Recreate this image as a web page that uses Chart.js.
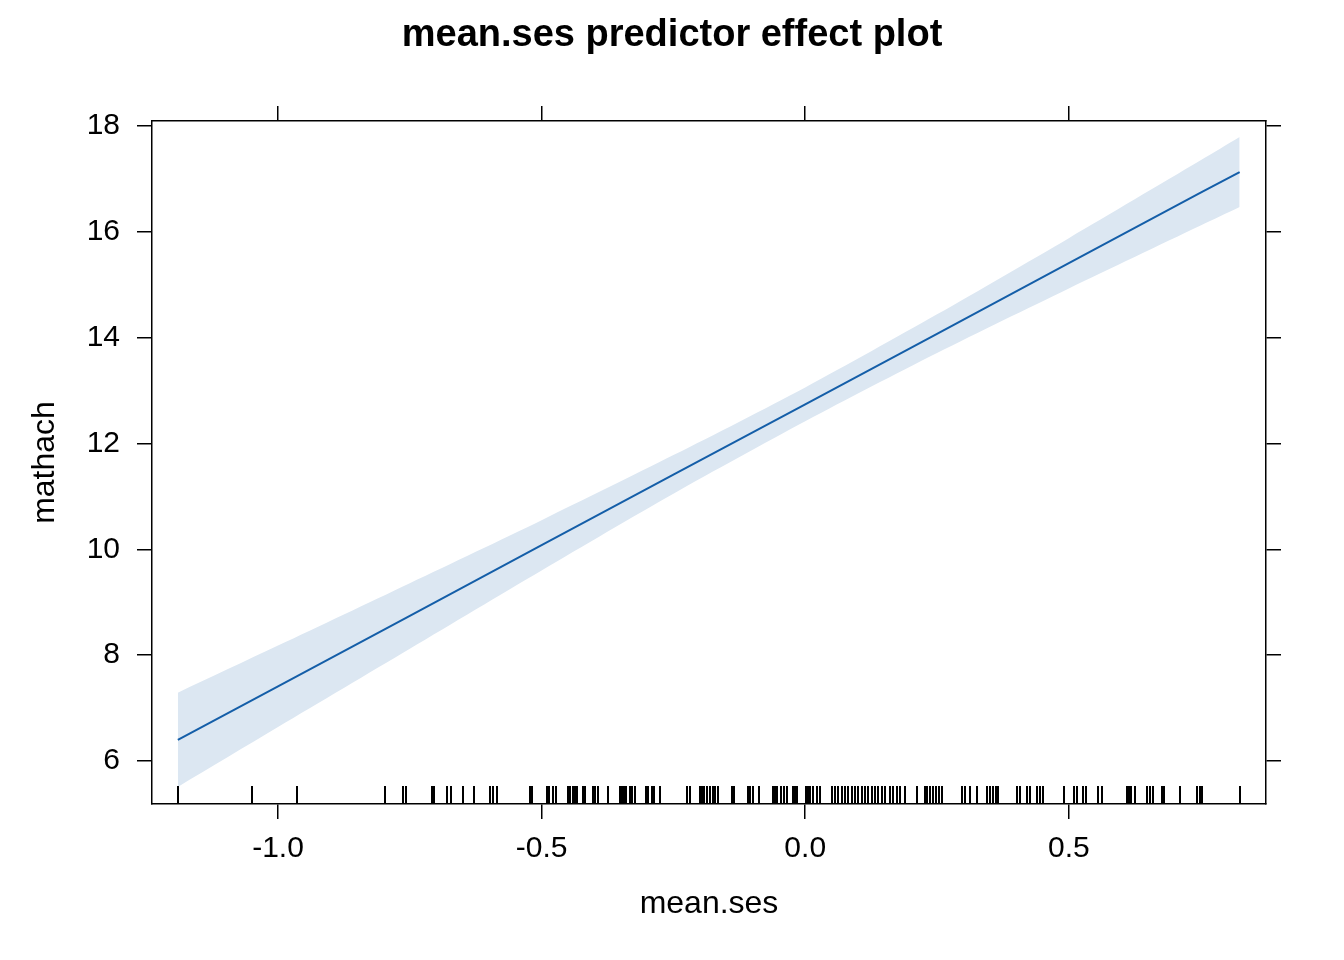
<!DOCTYPE html>
<html>
<head>
<meta charset="utf-8">
<script src="https://cdn.jsdelivr.net/npm/chart.js@4/dist/chart.umd.min.js"></script>
<style>
  html, body { margin: 0; padding: 0; background: #ffffff; }
  #wrap { width: 1344px; height: 960px; }
</style>
</head>
<body>
<div id="wrap"><canvas id="c" width="1344" height="960"></canvas></div>
<script>
// ---- data ----
const titleText = "mean.ses predictor effect plot";
const xTitle = "mean.ses";
const yTitle = "mathach";

const xTicks = [-1.0, -0.5, 0.0, 0.5];
const yTicks = [6, 8, 10, 12, 14, 16, 18];

const xGrid = [-1.19, -1.0, -0.75, -0.5, -0.25, 0.0, 0.25, 0.5, 0.75, 0.824];
const fitValues = [6.40, 7.41, 8.74, 10.08, 11.41, 12.74, 14.07, 15.41, 16.74, 17.13];
const lowerValues = [5.51, 6.64, 8.12, 9.60, 11.05, 12.42, 13.71, 14.93, 16.12, 16.47];
const upperValues = [7.29, 8.18, 9.36, 10.55, 11.78, 13.06, 14.44, 15.88, 17.35, 17.79];

const rugValues = [
  -1.190, -1.049, -0.964, -0.797, -0.763, -0.757, -0.708, -0.704, -0.679, -0.672,
  -0.649, -0.628, -0.598, -0.592, -0.585, -0.522, -0.518, -0.490, -0.486, -0.478,
  -0.473, -0.450, -0.446, -0.441, -0.437, -0.433, -0.422, -0.418, -0.403, -0.399,
  -0.393, -0.374, -0.351, -0.348, -0.344, -0.340, -0.332, -0.329, -0.323, -0.302,
  -0.298, -0.291, -0.287, -0.276, -0.224, -0.219, -0.200, -0.196, -0.192, -0.186,
  -0.181, -0.175, -0.171, -0.166, -0.139, -0.135, -0.109, -0.105, -0.099, -0.088,
  -0.061, -0.057, -0.054, -0.046, -0.040, -0.035, -0.023, -0.020, -0.016, 0.001,
  0.005, 0.009, 0.015, 0.022, 0.028, 0.051, 0.056, 0.062, 0.070, 0.075,
  0.081, 0.089, 0.094, 0.100, 0.108, 0.113, 0.119, 0.126, 0.132, 0.138,
  0.145, 0.151, 0.161, 0.166, 0.174, 0.180, 0.189, 0.212, 0.227, 0.231,
  0.236, 0.242, 0.248, 0.254, 0.259, 0.297, 0.303, 0.312, 0.326, 0.345,
  0.350, 0.356, 0.362, 0.365, 0.401, 0.407, 0.420, 0.426, 0.439, 0.445,
  0.451, 0.491, 0.510, 0.515, 0.527, 0.532, 0.555, 0.563, 0.610, 0.614,
  0.618, 0.625, 0.648, 0.654, 0.659, 0.676, 0.680, 0.711, 0.743, 0.749,
  0.752, 0.824
];

const xRange = [-1.239, 0.874];
const yRange = [5.187, 18.094];

// ---- styling ----
const FONT = '"Liberation Sans", Arial, Helvetica, sans-serif';
const lineColor = 'rgb(20,94,168)';
const bandColor = 'rgb(220,231,242)';

const rugPlugin = {
  id: 'rug',
  afterDatasetsDraw(chart) {
    const ctx = chart.ctx;
    const xs = chart.scales.x;
    const bottom = chart.chartArea.bottom;
    ctx.save();
    ctx.strokeStyle = '#000';
    ctx.lineWidth = 2;
    ctx.beginPath();
    rugValues.forEach(v => {
      const px = Math.round(xs.getPixelForValue(v));
      ctx.moveTo(px, bottom);
      ctx.lineTo(px, bottom - 18);
    });
    ctx.stroke();
    ctx.restore();
  }
};

function fixTicks(list) {
  return function(scale) { scale.ticks = list.map(v => ({ value: v })); };
}

const gridOpts = { display: true, drawOnChartArea: false, drawTicks: true, tickLength: 15, color: '#000', lineWidth: 1.5 };
const borderOpts = { display: true, color: '#000', width: 1.5 };

new Chart(document.getElementById('c'), {
  type: 'line',
  data: {
    datasets: [
      {
        label: 'upper',
        order: 2,
        data: xGrid.map((x, i) => ({ x: x, y: upperValues[i] })),
        borderWidth: 0,
        pointRadius: 0,
        backgroundColor: bandColor,
        fill: '+1',
        tension: 0.3
      },
      {
        label: 'lower',
        order: 3,
        data: xGrid.map((x, i) => ({ x: x, y: lowerValues[i] })),
        borderWidth: 0,
        pointRadius: 0,
        fill: false,
        tension: 0.3
      },
      {
        label: 'fit',
        order: 0,
        data: xGrid.map((x, i) => ({ x: x, y: fitValues[i] })),
        borderColor: lineColor,
        borderWidth: 2,
        pointRadius: 0,
        fill: false
      }
    ]
  },
  options: {
    responsive: false,
    devicePixelRatio: 1,
    animation: false,
    layout: { padding: 0 },
    plugins: {
      legend: { display: false },
      tooltip: { enabled: false },
      filler: { drawTime: 'beforeDatasetsDraw' },
      title: {
        display: true,
        text: titleText,
        color: '#000',
        font: { family: FONT, size: 38, weight: 'bold', lineHeight: 1.2 },
        padding: { top: 13, bottom: 0 }
      }
    },
    scales: {
      x: {
        type: 'linear', position: 'bottom', min: xRange[0], max: xRange[1],
        afterBuildTicks: fixTicks(xTicks),
        afterFit(s) { s.height = 156; },
        grid: gridOpts, border: borderOpts,
        ticks: { color: '#000', font: { family: FONT, size: 30 }, padding: 12, maxRotation: 0,
          callback: v => Number(v).toFixed(1) },
        title: { display: true, text: xTitle, color: '#000', font: { family: FONT, size: 32 }, padding: { top: 0, bottom: 37 } }
      },
      x2: {
        type: 'linear', position: 'top', min: xRange[0], max: xRange[1],
        afterBuildTicks: fixTicks(xTicks),
        afterFit(s) { s.height = 62.4; },
        grid: gridOpts, border: borderOpts,
        ticks: { display: false }
      },
      y: {
        type: 'linear', position: 'left', min: yRange[0], max: yRange[1],
        afterBuildTicks: fixTicks(yTicks),
        afterFit(s) { s.width = 152; },
        grid: gridOpts, border: borderOpts,
        ticks: { color: '#000', font: { family: FONT, size: 30 }, padding: 17,
          callback: v => String(v) },
        title: { display: true, text: yTitle, color: '#000', font: { family: FONT, size: 32 }, padding: { top: 26, bottom: 0 } }
      },
      y2: {
        type: 'linear', position: 'right', min: yRange[0], max: yRange[1],
        afterBuildTicks: fixTicks(yTicks),
        afterFit(s) { s.width = 78; },
        grid: gridOpts, border: borderOpts,
        ticks: { display: false }
      }
    }
  },
  plugins: [rugPlugin]
});
</script>
</body>
</html>
